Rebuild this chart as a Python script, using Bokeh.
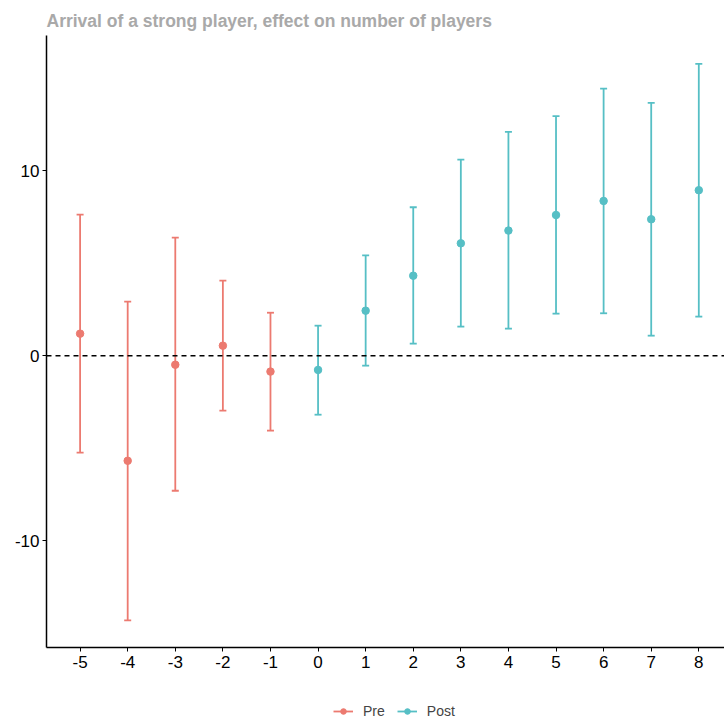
from bokeh.plotting import figure
from bokeh.models import Span, Legend, LegendItem, FixedTicker, Range1d
from bokeh.layouts import column
from bokeh.embed import file_html
from bokeh.resources import INLINE

# data
pre_x = [-5, -4, -3, -2, -1]
pre_est = [1.19, -5.68, -0.49, 0.54, -0.86]
pre_lo = [-5.24, -14.3, -7.3, -2.97, -4.05]
pre_hi = [7.62, 2.92, 6.38, 4.05, 2.32]

post_x = [0, 1, 2, 3, 4, 5, 6, 7, 8]
post_est = [-0.77, 2.43, 4.32, 6.07, 6.76, 7.6, 8.36, 7.37, 8.94]
post_lo = [-3.19, -0.54, 0.65, 1.57, 1.46, 2.27, 2.29, 1.08, 2.11]
post_hi = [1.62, 5.42, 8.02, 10.59, 12.09, 12.94, 14.43, 13.66, 15.77]

x_ticks = list(range(-5, 9))
y_ticks = [-10, 0, 10]

PRE_COL = "#EC7A70"
POST_COL = "#56BFC5"
FONT = "Liberation Sans"

p = figure(frame_width=678, frame_height=612, output_backend="svg", toolbar_location=None,
           x_range=Range1d(-5.706, 8.54), y_range=Range1d(-15.77, 17.3),
           title="Arrival of a strong player, effect on number of players",
           min_border_left=46, min_border_right=0, min_border_top=35, min_border_bottom=40)

p.title.text_font = FONT
p.title.text_font_size = "17.5px"
p.title.text_font_style = "bold"
p.title.text_color = "#a9a9a9"
p.title.offset = 0

p.grid.visible = False
p.outline_line_color = None
p.background_fill_color = "white"
p.border_fill_color = "white"

for ax in (p.xaxis[0], p.yaxis[0]):
    ax.axis_line_color = "black"
    ax.axis_line_width = 1.5
    ax.major_tick_line_color = "black"
    ax.major_tick_line_width = 1
    ax.major_tick_out = 4
    ax.major_tick_in = 0
    ax.minor_tick_line_color = None
    ax.major_label_text_font = FONT
    ax.major_label_text_font_size = "17px"
    ax.major_label_text_color = "black"

p.xaxis[0].ticker = FixedTicker(ticks=x_ticks)
p.yaxis[0].ticker = FixedTicker(ticks=y_ticks)
p.xaxis[0].major_label_overrides = {t: str(t) for t in x_ticks}
p.yaxis[0].major_label_overrides = {t: str(t) for t in y_ticks}
p.xaxis[0].major_label_standoff = 4
p.yaxis[0].major_label_standoff = 3

zero = Span(location=0, dimension="width", line_color="black", line_width=1.5, line_dash="5 4")
p.add_layout(zero)

series = [(pre_x, pre_est, pre_lo, pre_hi, PRE_COL, "Pre"),
          (post_x, post_est, post_lo, post_hi, POST_COL, "Post")]

for xs, est, lo, hi, col, lab in series:
    p.segment(x0=xs, y0=lo, x1=xs, y1=hi, line_color=col, line_width=1.8)
    p.scatter(x=xs, y=lo, marker="dash", size=7, line_color=col, line_width=1.8)
    p.scatter(x=xs, y=hi, marker="dash", size=7, line_color=col, line_width=1.8)
    p.scatter(x=xs, y=est, marker="circle", size=7.5, fill_color=col, line_color=col)

# legend strip below the plot (its own ranges keep its proxy renderers out of view)
lg = figure(frame_width=678, frame_height=34, output_backend="svg", toolbar_location=None,
            x_range=Range1d(100, 101), y_range=Range1d(100, 101),
            x_axis_location=None, y_axis_location=None,
            min_border_left=46, min_border_right=0, min_border_top=0, min_border_bottom=0)
lg.grid.visible = False
lg.outline_line_color = None

items = []
for xs, est, lo, hi, col, lab in series:
    seg = lg.segment(x0=xs, y0=lo, x1=xs, y1=hi, line_color=col, line_width=1.8)
    pts = lg.scatter(x=xs, y=est, marker="circle", size=7.5, fill_color=col, line_color=col)
    items.append(LegendItem(label=lab, renderers=[seg, pts]))

legend = Legend(items=items, orientation="horizontal", location=(287, 2),
                label_text_font=FONT, label_text_font_size="14px",
                glyph_width=20, glyph_height=14, spacing=12, label_standoff=10,
                border_line_color=None, background_fill_alpha=0, margin=0, padding=0)
lg.add_layout(legend, "center")

layout = column(p, lg, spacing=0)
open("out.html", "w").write(file_html(layout, INLINE))
